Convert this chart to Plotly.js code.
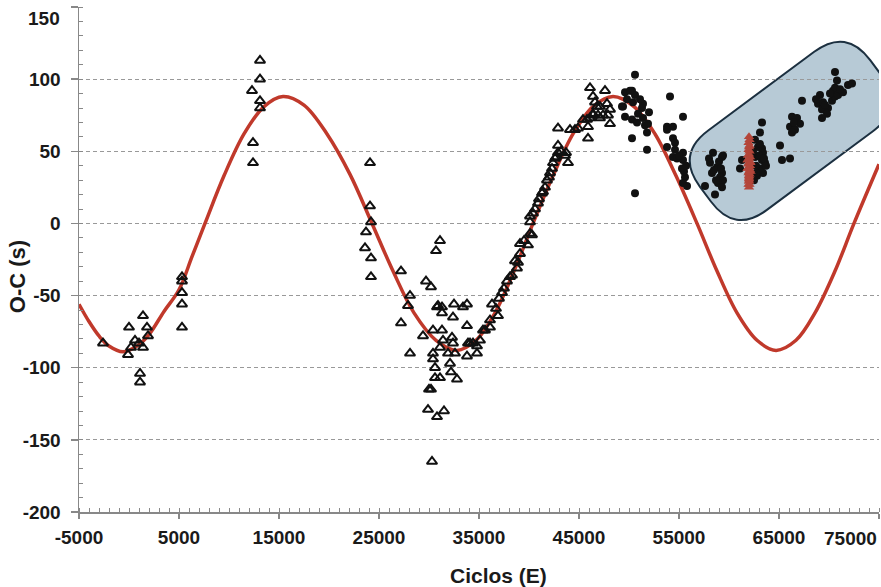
<!DOCTYPE html>
<html>
<head>
<meta charset="utf-8">
<script src="https://cdn.plot.ly/plotly-3.0.1.min.js"></script>
<style>html,body{margin:0;padding:0;background:#fff;}#chart{width:881px;height:587px;}</style>
</head>
<body>
<div id="chart"></div>
<script>
// Model curve
var curveE = [-5000,-4000,-3000,-2000,-600,800,2000,3500,5000,6300,7600,9500,11500,13500,15400,17500,19800,22100,24300,26400,28500,30700,32800,34700,36600,38500,40400,42400,44400,46400,48400,50500,52600,54700,56800,58800,60800,62800,64700,66700,68600,70600,72500,75000];
var curveOC = [-56,-68,-78,-85,-89,-85,-77,-61,-46,-23,0,33,62,81,88,82,62,34,0,-33,-62,-81,-88,-81,-62,-33,0,33,62,81,88,81,62,33,0,-33,-62,-81,-88,-81,-62,-33,0,41];

// Open triangles
var triE = [-2600,0,-100,200,600,1000,1400,1800,1900,1400,1100,1100,5300,5300,5300,5300,5300,
 13100,13100,12300,13100,13100,12400,12400,
 24100,24100,24200,23700,23600,24200,24200,
 27200,28100,27900,29700,30200,30700,31100,30900,27200,28100,29400,30400,30800,31300,31300,32500,33400,33800,32400,33800,31300,31400,32300,32400,30400,30400,30600,30600,31100,31900,32100,32200,32800,30000,30200,29900,31500,30800,30300,31100,32600,33900,33800,34400,34800,35100,35600,36100,36300,36900,36100,35400,34100,34800,
 38100,38800,39100,39900,40300,40100,40400,40900,38600,38300,38900,39100,40100,40100,41300,41600,41800,42100,42300,42400,42600,42900,42900,43600,43900,42900,44100,44600,44900,45900,45900,46100,46400,46800,45800,46400,46900,47600,46600,47100,47800,48100,46400,46100,47100,48100,47400,43700,45400,47900,
 37500,37800,39500,40600,41000,41400,42000,42700,43200,36700,37000,37300];
var triOC = [-83,-72,-91,-86,-81,-83,-64,-72,-78,-86,-104,-110,-37,-40,-48,-56,-72,
 113,100,92,85,80,56,42,
 42,12,1,-6,-17,-24,-37,
 -33,-50,-57,-40,-44,-19,-12,-57,-69,-90,-78,-74,-58,-58,-62,-56,-58,-56,-65,-71,-74,-81,-79,-83,-90,-94,-100,-107,-107,-90,-97,-103,-108,-115,-115,-129,-130,-134,-165,-86,-90,-83,-92,-83,-90,-81,-74,-72,-56,-64,-67,-74,-83,-85,
 -37,-31,-14,-15,-8,1,7,14,-26,-36,-27,-21,-7,5,21,25,30,35,38,42,45,49,54,47,42,66,65,65,66,59,67,94,88,81,72,76,75,92,84,81,83,79,75,73,73,69,75,49,72,75,
 -45,-40,-12,10,17,22,32,46,50,-59,-52,-48];

// Filled circles
var cirE = [50600,49600,50300,50600,50400,51400,51300,49400,49600,50300,50800,51400,51600,51800,50300,51800,54100,55400,53800,54400,53800,54400,54600,53800,54600,54400,55400,55400,55300,55600,55400,50600,50100,49300,51900,55800,54800,
 49800,50900,51100,52000,55000,55500,55700,
 58400,59300,58100,58800,58300,59300,59100,59400,58900,59300,57600,58600,59400,61100,61300,63300,63100,62600,63300,63400,63300,63600,63100,62800,63400,62600,65100,65300,66100,66300,66800,66100,66600,66300,67100,67300,69100,68900,69400,69300,69900,69800,69300,70300,70600,70400,70900,70600,70800,70600,71400,71900,72300,
 58000,58500,59000,58700,59200,62700,63000,63200,62900,63500,62500,62400,63700,62700,63100,68700,69600,70100,71100,66500];
var cirOC = [103,91,92,89,84,83,80,81,74,72,70,73,68,63,59,51,88,74,67,67,65,59,56,53,51,46,49,44,38,32,28,21,92,81,69,26,45,
 86,76,86,77,47,36,40,
 49,46,42,39,35,35,32,30,28,25,26,20,47,38,44,70,63,58,52,49,44,42,38,33,35,46,54,44,45,74,73,67,65,63,69,85,89,83,84,79,80,76,73,85,88,92,89,94,99,105,91,96,97,
 45,37,43,30,38,40,47,36,53,45,30,50,40,35,55,86,82,90,93,70];

// Red filled triangles
var redE = [62000,62050,61950,62050,62000,61950,62050,62000,61900,62100,62000,61900,62100,62000,61900,62100,62000,61900,62100,62000,61950,62050,62000,62000,62000,62000,62000,61950,62050,62000,61850,62150,61850,62150];
var redOC = [60,58,56,54,53,51,50,48,47,46,45,44,43,42,41,40,39,38,37,36,35,34,33,32,31,30,29,27,27,25,44,42,38,36];

// Tick labels (edge labels drawn inward, as in the reference)
var xTicks = [-5000,5000,15000,25000,35000,45000,55000,65000,75000];
var xTickText = ['-5000','5000','15000','25000','35000','45000','55000','65000',''];
var yTicks = [-200,-150,-100,-50,0,50,100,150];
var yTickText = ['-200','-150','-100','-50','0','50','100',''];

var F = 'Liberation Sans, Arial, sans-serif';
var tickFont = {family: F, size: 19, color: '#1a1a1a', weight: 'bold'};
var traces = [
 {x: curveE, y: curveOC, mode: 'lines', line: {color: '#c0392b', width: 3.5, shape: 'spline', smoothing: 1}, hoverinfo: 'skip'},
 {x: triE, y: triOC, mode: 'markers', marker: {symbol: 'triangle-up-open', size: 9, color: '#111', line: {width: 2, color: '#111'}}},
 {x: cirE, y: cirOC, mode: 'markers', marker: {symbol: 'circle', size: 8, color: '#111'}},
 {x: redE, y: redOC, mode: 'markers', marker: {symbol: 'triangle-up', size: 9, color: '#b4463a'}}
];

var layout = {
 width: 881, height: 587,
 margin: {l: 79, r: 2, t: 7, b: 75},
 paper_bgcolor: '#fff', plot_bgcolor: '#fff',
 showlegend: false,
 xaxis: {
  range: [-5000, 75000], tickmode: 'array', tickvals: xTicks, ticktext: xTickText,
  ticks: 'outside', ticklen: 5, tickwidth: 1.5, tickcolor: '#888',
  showline: true, linecolor: '#888', linewidth: 1.5,
  showgrid: false, zeroline: false,
  tickfont: tickFont,
  ticklabelstandoff: 3,
  minor: {tickmode: 'linear', tick0: -5000, dtick: 1000, ticks: 'inside', ticklen: 4, tickwidth: 1, tickcolor: '#888', showgrid: false}
 },
 yaxis: {
  range: [-200, 150], tickmode: 'array', tickvals: yTicks, ticktext: yTickText,
  ticks: 'outside', ticklen: 7, tickwidth: 1.5, tickcolor: '#888',
  showline: true, linecolor: '#888', linewidth: 1.5,
  showgrid: true, gridcolor: '#999', gridwidth: 1, griddash: '4px,3px',
  zeroline: false,
  tickfont: tickFont,
  ticklabelstandoff: 6,
  minor: {tickmode: 'linear', tick0: 0, dtick: 10, ticks: 'inside', ticklen: 4, tickwidth: 1, tickcolor: '#888', showgrid: false}
 },
 shapes: [{
  type: 'path', xref: 'x', yref: 'y', layer: 'below',
  path: 'M 57920 64.44 L 68520 118.96 Q 71740 135.49 74120 113.13 L 75230 102.78 Q 77610 80.42 74390 63.89 L 63790 9.38 Q 60570 -7.15 58190 15.21 L 57080 25.56 Q 54700 47.92 57920 64.44 Z',
  fillcolor: '#b7cad6', line: {color: '#1c3040', width: 2}
 }],
 annotations: [
  {text: 'O-C (s)', xref: 'paper', yref: 'paper', x: -0.0775, y: 0.465, xanchor: 'center', yanchor: 'middle', textangle: -90, showarrow: false, font: {family: F, size: 22, color: '#1a1a1a', weight: 'bold'}},
  {text: 'Ciclos (E)', xref: 'paper', yref: 'paper', x: 0.524, y: -0.125, xanchor: 'center', yanchor: 'middle', showarrow: false, font: {family: F, size: 21, color: '#1a1a1a', weight: 'bold'}},
  {text: '75000', xref: 'x', yref: 'paper', x: 75000, y: -0.052, xanchor: 'right', yanchor: 'middle', showarrow: false, font: tickFont},
  {text: '150', xref: 'paper', yref: 'y', x: -0.0213, y: 150, xanchor: 'right', yanchor: 'top', yshift: 1, showarrow: false, font: tickFont}
 ]
};

Plotly.newPlot('chart', traces, layout, {displayModeBar: false, staticPlot: true});
</script>
</body>
</html>
